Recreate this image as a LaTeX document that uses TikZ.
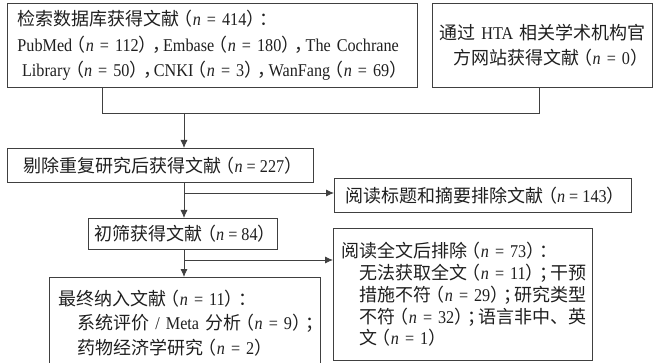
\documentclass[tikz,border=0pt]{standalone}
\usepackage{fontspec}
\setmainfont{Liberation Serif}[FakeStretch=0.9]
\newfontfamily\cjkf{Noto Sans CJK SC}
\newcommand\zh[1]{{\cjkf #1}}
\newcommand\nn{\textit{n}}
\newcommand\lp{{\cjkf\makebox[0.75em][r]{（}}}
\newcommand\rp{{\cjkf\makebox[0.75em][l]{）}}}
\newcommand\cmm{{\cjkf\makebox[0.6em][l]{，}}}
\newcommand\smc{{\cjkf\makebox[0.6em][l]{；}}}
\usetikzlibrary{arrows.meta}
\tikzset{
  box/.style={draw=black!75, line width=0.8pt, inner xsep=0pt, inner ysep=0pt,
    anchor=north west, text=black!88, font=\fontsize{18}{22}\selectfont},
  mbox/.style={box, inner xsep=#1},
  conn/.style={draw=black!75, line width=0.8pt},
  arr/.style={conn, -{Latex[length=8pt,width=7pt]}}
}
\begin{document}
\begin{tikzpicture}[x=1pt,y=-1pt]
\useasboundingbox (0,0) rectangle (658,363);
% boxes
\node[mbox=10pt, text width=390pt, minimum height=84pt, align=left,
  font=\fontsize{18}{25.5}\selectfont] (b1) at (7,3)
  {\mbox{\zh{检索数据库获得文献}\lp\nn{} = 414\rp\zh{：}}\\
   \makebox[390pt][s]{PubMed\lp\nn{} = 112\rp\cmm Embase\lp\nn{} = 180\rp\cmm The Cochrane}\\
   \makebox[390pt][c]{Library\lp\nn{} = 50\rp\cmm CNKI\lp\nn{} = 3\rp\cmm WanFang\lp\nn{} = 69\rp}};
\node[mbox=6pt, text width=208pt, minimum height=84pt, align=center,
  font=\fontsize{18}{25}\selectfont] (b2) at (432,3)
  {\mbox{\zh{通过} HTA \zh{相关学术机构官}}\\ \mbox{\hspace*{12pt}\zh{方网站获得文献}\lp\nn{} = 0\rp}};
\node[box, minimum width=306pt, minimum height=34pt] (dedup) at (7,148)
  {\zh{剔除重复研究后获得文献}\lp\nn{} = 227\rp};
\node[box, minimum width=297pt, minimum height=34pt] (excl1) at (334,178)
  {\zh{阅读标题和摘要排除文献}\lp\nn{} = 143\rp};
\node[box, minimum width=189pt, minimum height=31pt] (screen) at (88,218)
  {\zh{初筛获得文献}\lp\nn{} = 84\rp};
\node[mbox=8pt, text width=243pt, minimum height=132pt, align=left,
  font=\fontsize{18}{21.8}\selectfont] (excl2) at (333,228)
  {\mbox{\zh{阅读全文后排除}\lp\nn{} = 73\rp\zh{：}}\\
   \mbox{\hspace*{18pt}\zh{无法获取全文}\lp\nn{} = 11\rp\smc\zh{干预}}\\
   \mbox{\hspace*{18pt}\zh{措施不符}\lp\nn{} = 29\rp\smc\zh{研究类型}}\\
   \mbox{\hspace*{18pt}\zh{不符}\lp\nn{} = 32\rp\smc\zh{语言非中、英}}\\
   \mbox{\hspace*{18pt}\zh{文}\lp\nn{} = 1\rp}};
\node[mbox=9pt, text width=253pt, minimum height=91pt, align=left,
  font=\fontsize{18}{24.5}\selectfont] (fin) at (49,277)
  {\mbox{\zh{最终纳入文献}\lp\nn{} = 11\rp\zh{：}}\\
   \mbox{\hspace*{19pt}\zh{系统评价} / Meta \zh{分析}\lp\nn{} = 9\rp\smc}\\
   \mbox{\hspace*{19pt}\zh{药物经济学研究}\lp\nn{} = 2\rp}};
% junctions
\coordinate (j1) at (102,113);
\coordinate (j2) at (539,113);
\coordinate (j3) at (184,113);
\coordinate (j4) at (184,193);
\coordinate (j5) at (184,260);
% connectors
\draw[conn] (b1.south -| j1) -- (j1) -- (j2) -- (b2.south -| j2);
\draw[arr] (j3) -- (dedup.north -| j3);
\draw[arr] (dedup.south -| j3) -- (screen.north -| j3);
\draw[arr] (j4) -- (excl1.west |- j4);
\draw[arr] (screen.south -| j3) -- (fin.north -| j3);
\draw[arr] (j5) -- (excl2.west |- j5);
\end{tikzpicture}
\end{document}
